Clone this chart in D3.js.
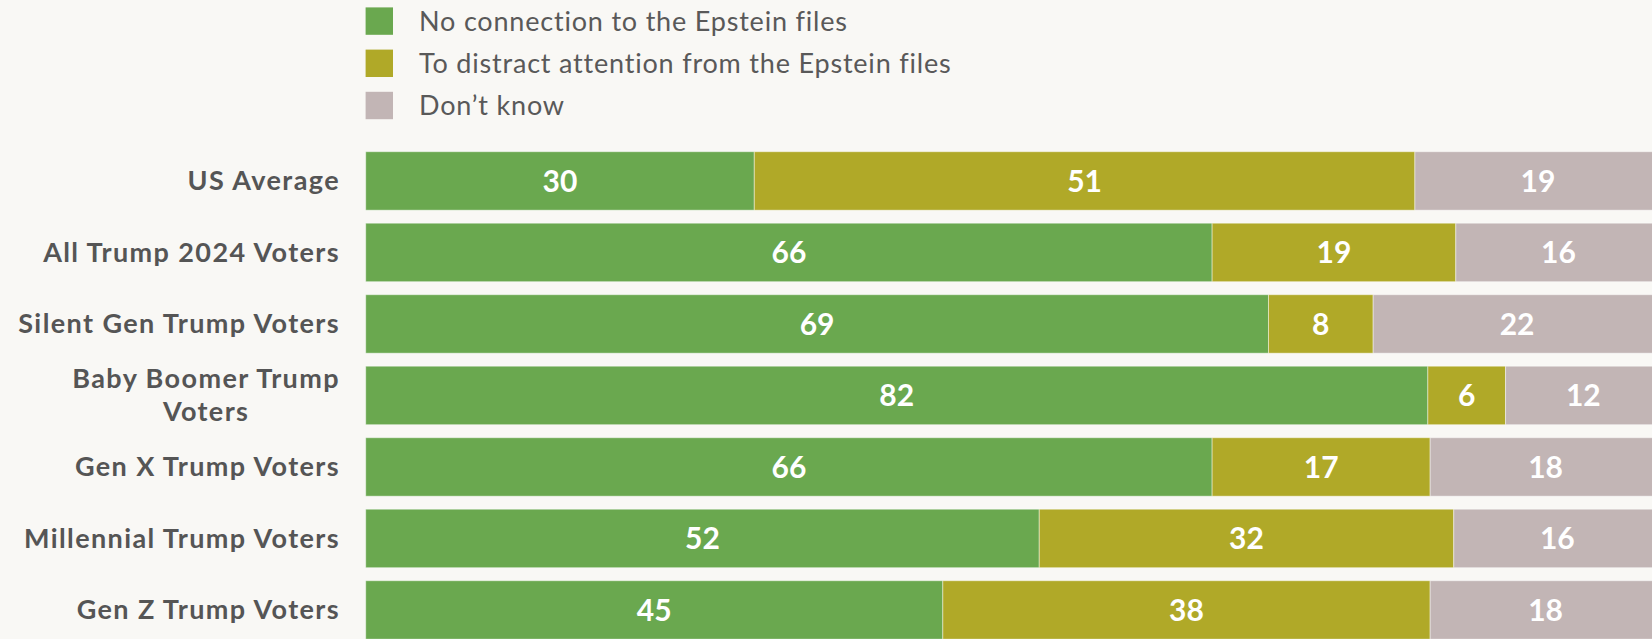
<!DOCTYPE html>
<html>
<head>
<meta charset="utf-8">
<script src="https://cdn.jsdelivr.net/npm/d3@7"></script>
<style>
  body { margin: 0; background: #f9f8f5; }
  svg { display: block; }
</style>
</head>
<body>
<script>
// data
const categories = ['US Average', 'All Trump 2024 Voters', 'Silent Gen Trump Voters', 'Baby Boomer Trump Voters',
  'Gen X Trump Voters', 'Millennial Trump Voters', 'Gen Z Trump Voters'];
const seriesNames = ['No connection to the Epstein files', 'To distract attention from the Epstein files', 'Don\u2019t know'];
const noConnection = [30, 66, 69, 82, 66, 52, 45];
const distract = [51, 19, 8, 6, 17, 32, 38];
const dontKnow = [19, 16, 22, 12, 18, 16, 18];
const colors = ['#6aa84f', '#b0a928', '#c2b5b5'];

// canvas
let width = 1652;
let height = 639;
let svg = d3.select('body').append('svg')
  .attr('width', width)
  .attr('height', height);

// table for the stack
let rows = categories.map((c, i) => ({ cat: c, s0: noConnection[i], s1: distract[i], s2: dontKnow[i] }));
let keys = ['s0', 's1', 's2'];
let stacked = d3.stack().keys(keys).offset(d3.stackOffsetExpand)(rows);

let x = d3.scaleLinear().domain([0, 1]).range([365.7, 1661]);
let y = d3.scaleBand().domain(categories).range([151.7, 639.2]).paddingInner(0.182).paddingOuter(0);

// bars
let groups = svg.append('g').selectAll('g')
  .data(stacked)
  .enter()
  .append('g')
  .attr('fill', (d, i) => colors[i]);

groups.selectAll('rect')
  .data(d => d)
  .enter()
  .append('rect')
  .attr('x', d => x(d[0]))
  .attr('y', d => y(d.data.cat))
  .attr('width', d => x(d[1]) - x(d[0]))
  .attr('height', y.bandwidth())
  .attr('stroke', 'rgba(255,255,255,0.45)')
  .attr('stroke-width', 1);

// value labels
groups.selectAll('text')
  .data((d, i) => d.map(v => ({ v: v, key: keys[i] })))
  .enter()
  .append('text')
  .attr('x', d => (x(d.v[0]) + x(d.v[1])) / 2)
  .attr('y', d => y(d.v.data.cat) + y.bandwidth() / 2)
  .attr('dy', '0.36em')
  .attr('text-anchor', 'middle')
  .attr('fill', '#ffffff')
  .style('font-family', 'Lato, sans-serif')
  .style('font-weight', 700)
  .style('font-size', '30px')
  .text(d => d.v.data[d.key]);

// category labels (wrapped when too long, lines centred on the widest one)
let labelRight = 340;
let maxLabel = 328;
let labels = svg.append('g')
  .style('font-family', 'Lato, sans-serif')
  .style('font-weight', 700)
  .style('font-size', '27px')
  .style('letter-spacing', '1.4px')
  .attr('fill', '#555555');

categories.forEach(c => {
  let t = labels.append('text').attr('text-anchor', 'end').attr('x', labelRight).text(c);
  let cy = y(c) + y.bandwidth() / 2;
  if (t.node().getComputedTextLength() <= maxLabel) {
    t.attr('y', cy).attr('dy', '0.35em');
    return;
  }
  // greedy wrap
  let words = c.split(' ');
  let lines = [];
  let line = [];
  words.forEach(w => {
    line.push(w);
    t.text(line.join(' '));
    if (t.node().getComputedTextLength() > maxLabel && line.length > 1) {
      line.pop();
      lines.push(line.join(' '));
      line = [w];
    }
  });
  lines.push(line.join(' '));
  let widest = d3.max(lines, l => { t.text(l); return t.node().getComputedTextLength(); });
  t.text(null).attr('text-anchor', 'middle');
  let lh = 33;
  lines.forEach((l, j) => {
    t.append('tspan')
      .attr('x', labelRight - widest / 2)
      .attr('y', cy + (j - (lines.length - 1) / 2) * lh)
      .attr('dy', '0.35em')
      .text(l);
  });
});

// legend
let legend = svg.append('g');
let legendItems = legend.selectAll('g')
  .data(seriesNames)
  .enter()
  .append('g')
  .attr('transform', (d, i) => 'translate(365.6,' + (7.4 + i * 42.2) + ')');

legendItems.append('rect')
  .attr('width', 27.4)
  .attr('height', 27.4)
  .attr('fill', (d, i) => colors[i]);

legendItems.append('text')
  .attr('x', 53.5)
  .attr('y', 13.7)
  .attr('dy', '0.35em')
  .attr('fill', '#595959')
  .style('font-family', 'Lato, sans-serif')
  .style('font-size', '27px')
  .style('letter-spacing', '0.8px')
  .text(d => d);
</script>
</body>
</html>
